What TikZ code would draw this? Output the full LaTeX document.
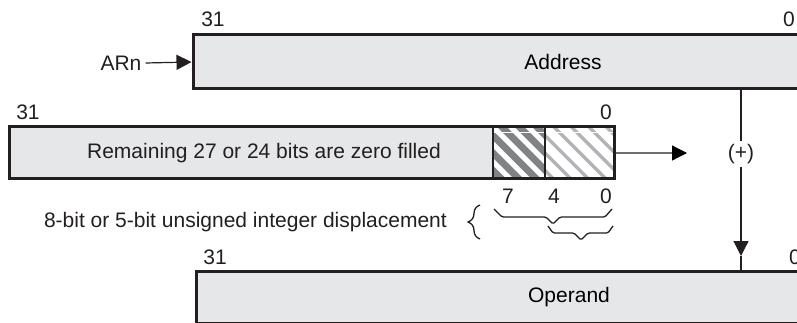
\documentclass[tikz,border=0pt]{standalone}
\usepackage{fontspec}
\setmainfont{Liberation Sans}
\usetikzlibrary{arrows.meta,decorations.pathreplacing}
\definecolor{boxfill}{HTML}{E6E7E8}
\definecolor{ink}{HTML}{231F20}
\definecolor{darkhatch}{HTML}{808285}
\definecolor{lighthatch}{HTML}{B1B3B6}
\definecolor{grayline}{HTML}{6D6E71}
\begin{document}
\begin{tikzpicture}[x=1pt,y=-1pt,
  font=\fontsize{21}{25}\selectfont,
  regbox/.style={draw=ink, fill=boxfill, line width=3pt, inner sep=0pt},
  frame/.style={draw=ink, line width=3pt, inner sep=0pt},
  bitlbl/.style={inner sep=0pt, text=ink},
  thinline/.style={draw=ink, line width=1.2pt},
  tip/.style={-{Triangle[length=15pt,width=15pt]}},
  bracestyle/.style={draw=ink, line width=1.3pt, rounded corners=1.5pt}
]
\useasboundingbox (0,0) rectangle (797,323);
\clip (0,0) rectangle (797,323);

% Address register
\node[regbox, minimum width=740pt, minimum height=54pt] (addr) at (563,62) {Address};
\node[bitlbl] (a31) at (213,19) {31};
\node[bitlbl] (a0) at (789,19) {0};

% ARn input
\node[text=ink, inner sep=4pt] (arn) at (121,63) {ARn};
\draw[thinline, tip] (arn.east) -- (addr.west);

% displacement register
\fill[boxfill] (9,127) rectangle (493,179);
\fill[white] (493,127) rectangle (614,179);
\begin{scope}
  \clip (493,127) rectangle (545,179);
  \foreach \i in {-4,...,4}
    \draw[darkhatch, line width=7pt] (493+\i*17.5,118) -- ++(70,70);
\end{scope}
\begin{scope}
  \clip (545,127) rectangle (614,179);
  \foreach \i in {-4,...,5}
    \draw[lighthatch, line width=3.5pt] (545+\i*17.5,118) -- ++(70,70);
\end{scope}
\draw[white, line width=1pt] (494,133) -- (613,133);
\draw[ink, line width=1.2pt] (493,127) -- (493,179);
\draw[ink, line width=1.2pt] (545,127) -- (545,179);
\node[frame, minimum width=605pt, minimum height=52pt] (reg) at (311.5,153) {};
\node[text=ink] (remtext) at (264,153) {Remaining 27 or 24 bits are zero filled};
\node[bitlbl] (r31) at (28,112) {31};
\node[bitlbl] (r0) at (606,112) {0};
\node[bitlbl] (b7) at (508,196) {7};
\node[bitlbl] (b4) at (554,196) {4};
\node[bitlbl] (b0) at (606,196) {0};

% braces
\draw[bracestyle] (494,209) -- (502,217) -- (546,217) -- (553,224) -- (560,217) -- (605,217) -- (612,209);
\draw[bracestyle] (548,226) -- (553,233) -- (574,233) -- (581,240) -- (588,233) -- (608,233) -- (613,226);
\draw[draw=ink, line width=1.3pt, decorate, decoration={brace, amplitude=12pt}] (480,239) -- (480,205);
\node[text=ink, anchor=east, inner sep=0pt] (disp) at (447,222) {8-bit or 5-bit unsigned integer displacement};

% adder
\node[text=ink] (plus) at (741,154) {(+)};
\coordinate (sumin) at (687,153);
\draw[draw=grayline, line width=1.2pt, -{Triangle[length=15pt,width=15pt,color=black,fill=black]}] (reg.east) -- (sumin);
\draw[thinline] (plus |- addr.south) -- (plus.north);
\coordinate (downtip) at (741,256);
\draw[thinline, tip] (plus.south) -- (downtip);

% Operand register
\node[regbox, minimum width=746pt, minimum height=52pt] (oper) at (569,297) {Operand};
\draw[thinline] (downtip) -- (plus |- oper.north);
\node[bitlbl] (o31) at (215,257) {31};
\node[bitlbl] (o0) at (795,257) {0};
\end{tikzpicture}
\end{document}
